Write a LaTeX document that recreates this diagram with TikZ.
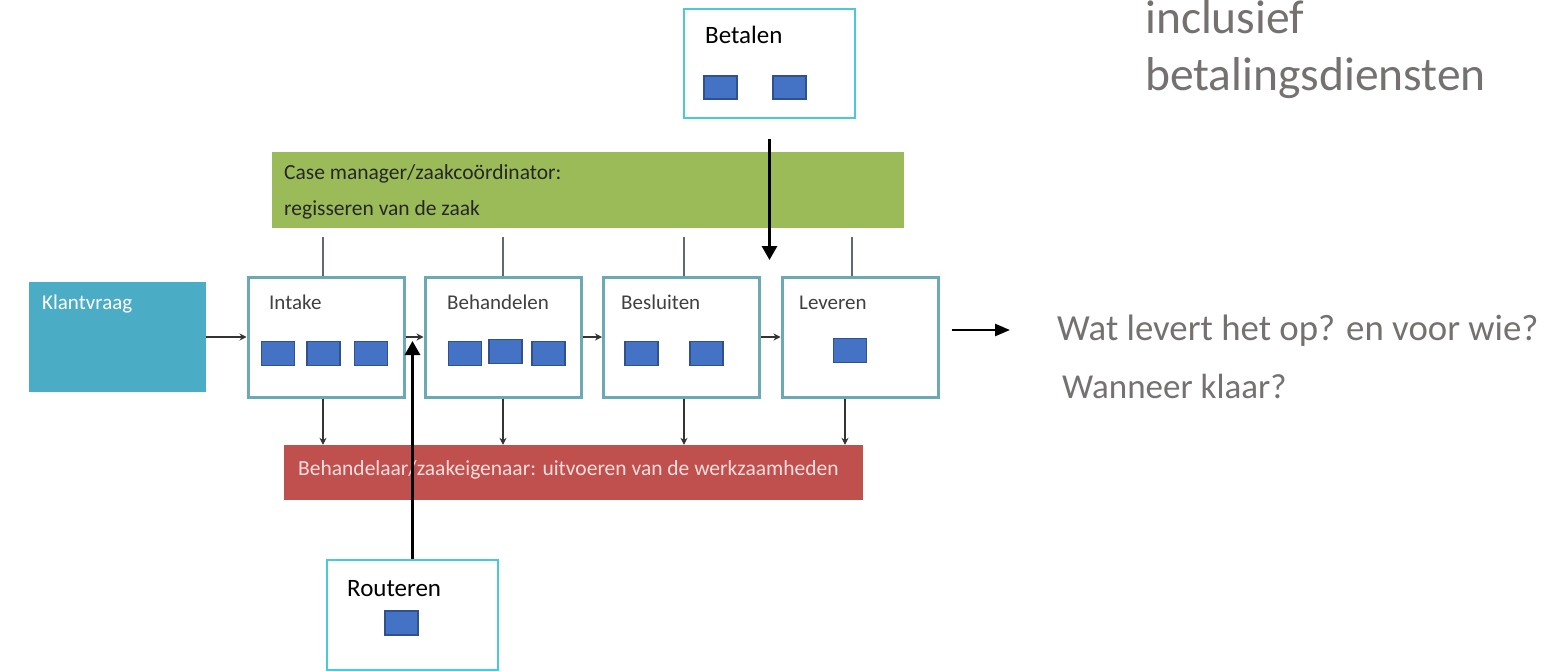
\documentclass[tikz,border=0pt]{standalone}
\usepackage{fontspec}
\setmainfont{Carlito}
\usetikzlibrary{arrows.meta,backgrounds,calc}
\definecolor{procborder}{HTML}{6BA9B5}
\definecolor{klantfill}{HTML}{4BACC6}
\definecolor{greenfill}{HTML}{9BBB59}
\definecolor{redfill}{HTML}{C0504D}
\definecolor{cyanborder}{HTML}{4BC8DA}
\definecolor{sqfill}{HTML}{4472C4}
\definecolor{sqborder}{HTML}{2F528F}
\definecolor{graytext}{HTML}{767171}
\definecolor{linkgray}{HTML}{5E6A72}
\definecolor{redtext}{HTML}{F7DEDE}
\begin{document}
\begin{tikzpicture}[x=1pt,y=-1pt,
  proc/.style={draw=procborder, line width=3pt, fill=white, minimum width=156pt, minimum height=120pt, inner sep=0pt},
  sq/.style={draw=sqborder, fill=sqfill, line width=1.2pt, minimum width=33pt, minimum height=24pt, inner sep=0pt},
  plabel/.style={font=\fontsize{21}{25}\selectfont, text=black!75, anchor=base west, inner sep=0pt},
  btext/.style={font=\fontsize{21.5}{25}\selectfont, anchor=base west, inner sep=0pt},
  flow/.style={-{Stealth[length=7pt,width=7pt]}, line width=1.6pt, draw=black!80},
  downarrow/.style={-{Stealth[length=7pt,width=7pt]}, line width=1.1pt, draw=black!80},
  link/.style={line width=1.4pt, draw=linkgray},
  bigarrow/.style={-{Triangle[length=14pt,width=15pt]}, line width=3pt, draw=black},
  sidearrow/.style={-{Triangle[length=15pt,width=12pt]}, line width=2.5pt, draw=black},
  cyanbox/.style={draw=cyanborder, line width=2pt, fill=white, inner sep=0pt},
  boxtext/.style={font=\fontsize{25}{30}\selectfont, anchor=base west, inner sep=0pt},
  gtext/.style={text=graytext, anchor=base west, inner sep=0pt},
  haloline/.style={draw=black!35, line width=1.5pt}
]
\useasboundingbox (0,0) rectangle (1566,671);
\fill[white] (0,0) rectangle (1566,671);

% customer request
\node[fill=klantfill, minimum width=177pt, minimum height=110pt, inner sep=0pt] (klant) at (117.5,337) {};
\node[plabel, text=white] (klantlbl) at (42,309) {Klantvraag};

% case manager
\node[fill=greenfill, minimum width=632pt, minimum height=76pt, inner sep=0pt] (green) at (588,190) {};
\node[btext, text=black!85] (greenA) at (284,180) {Case manager/zaakcoördinator:};
\node[btext, text=black!85] (greenB) at (284,215) {regisseren van de zaak};
\coordinate (greenbase) at ($(green.south)+(0,9)$);

% handler
\node[fill=redfill, minimum width=579pt, minimum height=55pt, inner sep=0pt] (red) at (573.5,472.5) {};
\node[btext, text=redtext] (redtxt) at (298,475) {Behandelaar/zaakeigenaar: uitvoeren van de werkzaamheden};

% process boxes
\node[proc] (intake) at (326,337) {};
\node[proc] (behandelen) at (503,337) {};
\node[proc] (besluiten) at (681.5,337) {};
\node[proc] (leveren) at (860,337) {};
\node[plabel] (intakelbl) at (269,309) {Intake};
\node[plabel] (behlbl) at (447,309) {Behandelen};
\node[plabel] (beslbl) at (621,309) {Besluiten};
\node[plabel] (levlbl) at (799,309) {Leveren};

\node[sq] (i1) at (278,353.5) {};
\node[sq] (i2) at (323.5,353.5) {};
\node[sq] (i3) at (371,353.5) {};
\node[sq] (b1) at (465,353.5) {};
\node[sq] (b2) at (505.5,351.5) {};
\node[sq] (b3) at (548.5,353.5) {};
\node[sq] (s1) at (641.5,353.5) {};
\node[sq] (s2) at (706.5,353.5) {};
\node[sq] (l1) at (850,350.5) {};

% Betalen
\node[cyanbox, minimum width=171pt, minimum height=109pt] (betalen) at (769.5,63.5) {};
\node[boxtext] (betalenlbl) at (705,44) {Betalen};
\node[sq, minimum height=23pt] (p1) at (720.5,87.5) {};
\node[sq, minimum height=23pt] (p2) at (789.5,87.5) {};

% Routeren
\node[cyanbox, minimum width=171pt, minimum height=110pt] (routeren) at (412.5,615) {};
\node[boxtext] (routerenlbl) at (347,596) {Routeren};
\node[sq] (r1) at (401.5,623) {};

% right texts
\node[gtext, font=\fontsize{47.5}{56}\selectfont] (incl) at (1145,34) {inclusief};
\node[gtext, font=\fontsize{47.5}{56}\selectfont] (betal) at (1145,91) {betalingsdiensten};
\node[gtext, font=\fontsize{36.8}{42}\selectfont] (wat) at (1057,340) {Wat levert het op? en voor wie?};
\node[gtext, font=\fontsize{35}{42}\selectfont] (wanneer) at (1062,398) {Wanneer klaar?};

% halos / shadows
\begin{pgfonlayer}{background}
\fill[greenfill!14] ([shift={(-3,-3)}]green.north west) rectangle ([shift={(3,9)}]green.south east);
\draw[haloline] ([shift={(-3,9)}]green.south west) -- ([shift={(3,9)}]green.south east);
\fill[redfill!14] ([shift={(-3,-3)}]red.north west) rectangle ([shift={(6,8)}]red.south east);
\draw[haloline] ([shift={(-3,8)}]red.south west) -- ([shift={(6,8)}]red.south east);
\draw[draw=black!20, line width=1.5pt] ([shift={(6,-2)}]red.north east) -- ([shift={(6,8)}]red.south east);
\fill[klantfill!14] ([shift={(-4,-4)}]klant.north west) rectangle ([shift={(6,9)}]klant.south east);
\draw[haloline] ([shift={(-4,9)}]klant.south west) -- ([shift={(6,9)}]klant.south east);
\foreach \b in {intake,behandelen,besluiten,leveren}{
  \fill[klantfill!10] ([shift={(-4,-4)}]\b.north west) rectangle ([shift={(4,5)}]\b.south east);
}
\end{pgfonlayer}

% links from case manager
\draw[link] ([xshift=-3pt]intake.north) -- ([xshift=-3pt]intake.north |- greenbase);
\draw[link] (behandelen.north) -- (behandelen.north |- greenbase);
\draw[link] ([xshift=2.5pt]besluiten.north) -- ([xshift=2.5pt]besluiten.north |- greenbase);
\draw[link] ([xshift=-8pt]leveren.north) -- ([xshift=-8pt]leveren.north |- greenbase);

% flow
\draw[flow] (klant.east) -- (intake.west);
\draw[flow] (intake.east) -- (behandelen.west);
\draw[flow] (behandelen.east) -- (besluiten.west);
\draw[flow] (besluiten.east) -- (leveren.west);

% down to handler
\draw[downarrow] ([xshift=-3pt]intake.south) -- ([xshift=-3pt]intake.south |- red.north);
\draw[downarrow] (behandelen.south) -- (behandelen.south |- red.north);
\draw[downarrow] ([xshift=2.5pt]besluiten.south) -- ([xshift=2.5pt]besluiten.south |- red.north);
\draw[downarrow] ([xshift=-15pt]leveren.south) -- ([xshift=-15pt]leveren.south |- red.north);

% big arrows
\coordinate (betalentip) at (770,260);
\draw[bigarrow] ([yshift=-20pt]betalen.south) -- (betalen.south |- betalentip);
\coordinate (routertip) at (413,341);
\draw[bigarrow] (routeren.north) -- (routeren.north |- routertip);
\draw[sidearrow] ([shift={(12,-7)}]leveren.east) -- ([shift={(-47,-10)}]wat.base west);
\end{tikzpicture}
\end{document}
